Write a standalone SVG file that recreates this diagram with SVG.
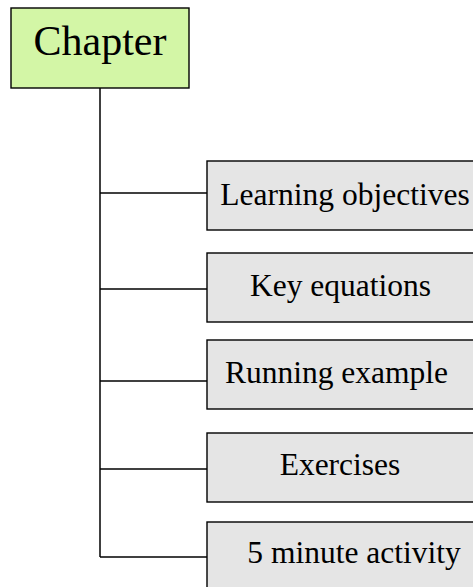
<svg xmlns="http://www.w3.org/2000/svg" width="473" height="587" viewBox="0 0 473 587">
<style>
.box{stroke:#000;stroke-width:1.4}
.root{fill:#d3f6a6}
.child{fill:#e5e5e5}
.conn{stroke:#000;stroke-width:1.5;fill:none}
text{font-family:"Liberation Serif","DejaVu Serif",serif;fill:#000;text-anchor:middle}
.t1{font-size:42px}
.t2{font-size:31.5px}
</style>
<rect width="473" height="587" fill="#fff"/>
<g id="connectors">
<path class="conn" d="M100 88 V557"/>
<path class="conn" d="M100 193 H207"/>
<path class="conn" d="M100 289 H207"/>
<path class="conn" d="M100 381 H207"/>
<path class="conn" d="M100 469 H207"/>
<path class="conn" d="M100 557 H207"/>
</g>
<g id="chapter">
<rect class="box root" x="11" y="8" width="178" height="80"/>
<text class="t1" x="100" y="55">Chapter</text>
</g>
<g id="learning-objectives">
<rect class="box child" x="207" y="161" width="280" height="69"/>
<text class="t2" x="345" y="205">Learning objectives</text>
</g>
<g id="key-equations">
<rect class="box child" x="207" y="253" width="280" height="69"/>
<text class="t2" x="340.5" y="296">Key equations</text>
</g>
<g id="running-example">
<rect class="box child" x="207" y="340" width="280" height="69"/>
<text class="t2" x="336.5" y="383">Running example</text>
</g>
<g id="exercises">
<rect class="box child" x="207" y="433" width="280" height="69"/>
<text class="t2" x="340" y="475">Exercises</text>
</g>
<g id="five-minute-activity">
<rect class="box child" x="207" y="522" width="280" height="80"/>
<text class="t2" x="354" y="563">5 minute activity</text>
</g>
</svg>
